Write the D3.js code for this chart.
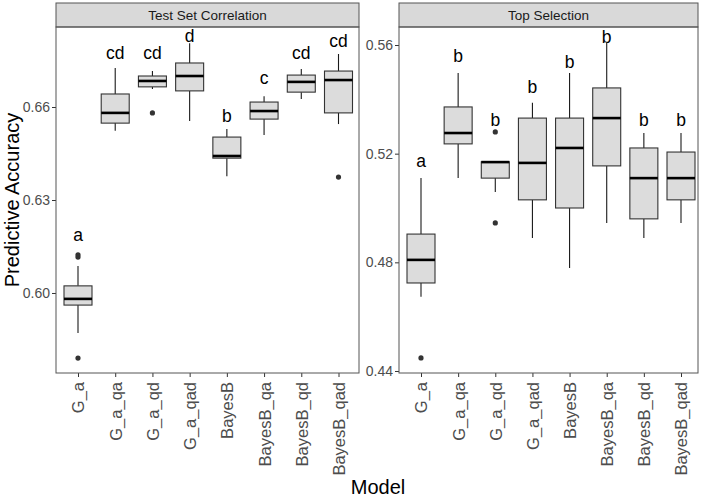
<!DOCTYPE html>
<html><head><meta charset="utf-8">
<script src="https://cdn.jsdelivr.net/npm/d3@7"></script>
<style>body{margin:0;background:#fff}</style>
</head><body>
<svg id="c" width="703" height="499"></svg>
<script>
const models = ["G_a","G_a_qa","G_a_qd","G_a_qad","BayesB","BayesB_qa","BayesB_qd","BayesB_qad"];
const panelTitles = ["Test Set Correlation","Top Selection"];

// Test Set Correlation: [whiskerLow, Q1, median, Q3, whiskerHigh]
const corrStats = [
  [0.5871,0.5961,0.5981,0.6023,0.6087],
  [0.6523,0.6548,0.6581,0.6642,0.6726],
  [0.6658,0.6665,0.6684,0.6700,0.6716],
  [0.6555,0.6652,0.6700,0.6742,0.6806],
  [0.6377,0.6435,0.6442,0.6503,0.6529],
  [0.6510,0.6561,0.6587,0.6616,0.6635],
  [0.6626,0.6648,0.6681,0.6703,0.6723],
  [0.6545,0.6581,0.6687,0.6716,0.6771]
];
const corrOutliers = [[0.6123,0.6116,0.5790],[],[0.6581],[],[],[],[],[0.6374]];
const corrLetters = ["a","cd","cd","d","b","c","cd","cd"];
const corrLetterY = [0.6168,0.6755,0.6755,0.6810,0.6552,0.6674,0.6755,0.6794];
const corrTicks = [0.60,0.63,0.66];

// Top Selection
const topStats = [
  [0.4673,0.4724,0.4809,0.4904,0.5110],
  [0.5110,0.5236,0.5276,0.5372,0.5497],
  [0.5059,0.5110,0.5169,0.5170,0.5170],
  [0.4890,0.5030,0.5166,0.5331,0.5387],
  [0.4779,0.5000,0.5221,0.5331,0.5497],
  [0.4945,0.5155,0.5331,0.5442,0.5607],
  [0.4890,0.4960,0.5110,0.5221,0.5276],
  [0.4945,0.5030,0.5110,0.5206,0.5276]
];
const topOutliers = [[0.4448],[],[0.5280,0.4945],[],[],[],[],[]];
const topLetters = ["a","b","b","b","b","b","b","b"];
const topLetterY = [0.5151,0.5537,0.5302,0.5423,0.5515,0.5607,0.5302,0.5302];
const topTicks = [0.44,0.48,0.52,0.56];

const svg = d3.select("#c");
const font = "Liberation Sans, Arial, Helvetica, sans-serif";
const plotTop = 27, plotBottom = 373, stripTop = 3;

const panels = [
  {x0:56, x1:359, pts:[78,338.5], dom:[0.57419,0.68581], stats:corrStats, out:corrOutliers, letters:corrLetters, ly:corrLetterY, ticks:corrTicks, title:panelTitles[0]},
  {x0:399, x1:698, pts:[421,681], dom:[0.43926,0.56663], stats:topStats, out:topOutliers, letters:topLetters, ly:topLetterY, ticks:topTicks, title:panelTitles[1]}
];

panels.forEach(p => {
  const x = d3.scalePoint().domain(models).range(p.pts);
  const y = d3.scaleLinear().domain(p.dom).range([plotBottom, plotTop]);
  const g = svg.append("g");
  const bw = 28;

  // strip
  g.append("rect").attr("x",p.x0).attr("y",stripTop).attr("width",p.x1-p.x0).attr("height",plotTop-stripTop)
    .attr("fill","#d9d9d9").attr("stroke","#555").attr("stroke-width",1);
  g.append("text").attr("x",(p.x0+p.x1)/2).attr("y",(stripTop+plotTop)/2).attr("dy","0.36em")
    .attr("text-anchor","middle").attr("font-family",font).attr("font-size",13.5).attr("fill","#1a1a1a").text(p.title);

  // axes
  const ya = d3.axisLeft(y).tickValues(p.ticks).tickFormat(d3.format(".2f")).tickSize(4).tickPadding(2);
  const yg = g.append("g").attr("transform",`translate(${p.x0},0)`).call(ya);
  yg.select(".domain").remove();
  yg.selectAll("line").attr("stroke","#333");
  yg.selectAll("text").attr("font-family",font).attr("font-size",14).attr("fill","#4d4d4d");

  const xa = d3.axisBottom(x).tickSize(4).tickPadding(2);
  const xg = g.append("g").attr("transform",`translate(0,${plotBottom})`).call(xa);
  xg.select(".domain").remove();
  xg.selectAll("line").attr("stroke","#333");
  xg.selectAll("text").attr("font-family",font).attr("font-size",16.5).attr("fill","#4d4d4d")
    .attr("transform","rotate(-90)").attr("text-anchor","end").attr("x",-9).attr("y",0).attr("dy","0.36em");

  // boxes
  models.forEach((m,i) => {
    const s = p.stats[i], cx = x(m);
    g.append("line").attr("x1",cx).attr("x2",cx).attr("y1",y(s[3])).attr("y2",y(s[4])).attr("stroke","#1a1a1a").attr("stroke-width",1.1);
    g.append("line").attr("x1",cx).attr("x2",cx).attr("y1",y(s[0])).attr("y2",y(s[1])).attr("stroke","#1a1a1a").attr("stroke-width",1.1);
    g.append("rect").attr("x",cx-bw/2).attr("y",y(s[3])).attr("width",bw).attr("height",Math.max(0.5,y(s[1])-y(s[3])))
      .attr("fill","#dcdcdc").attr("stroke","#333").attr("stroke-width",1.1);
    g.append("line").attr("x1",cx-bw/2).attr("x2",cx+bw/2).attr("y1",y(s[2])).attr("y2",y(s[2])).attr("stroke","#000").attr("stroke-width",2.6);
    p.out[i].forEach(v => {
      g.append("circle").attr("cx",cx).attr("cy",y(v)).attr("r",2.6).attr("fill","#333");
    });
    g.append("text").attr("x",cx).attr("y",y(p.ly[i])).attr("text-anchor","middle")
      .attr("font-family",font).attr("font-size",17.5).attr("fill","#000").text(p.letters[i]);
  });

  // frame
  g.append("rect").attr("x",p.x0).attr("y",plotTop).attr("width",p.x1-p.x0).attr("height",plotBottom-plotTop)
    .attr("fill","none").attr("stroke","#555").attr("stroke-width",1);
});

svg.append("text").attr("transform","translate(19,200) rotate(-90)").attr("text-anchor","middle")
  .attr("font-family",font).attr("font-size",20).attr("fill","#000").text("Predictive Accuracy");
svg.append("text").attr("x",378).attr("y",494).attr("text-anchor","middle")
  .attr("font-family",font).attr("font-size",20).attr("fill","#000").text("Model");
</script>
</body></html>
